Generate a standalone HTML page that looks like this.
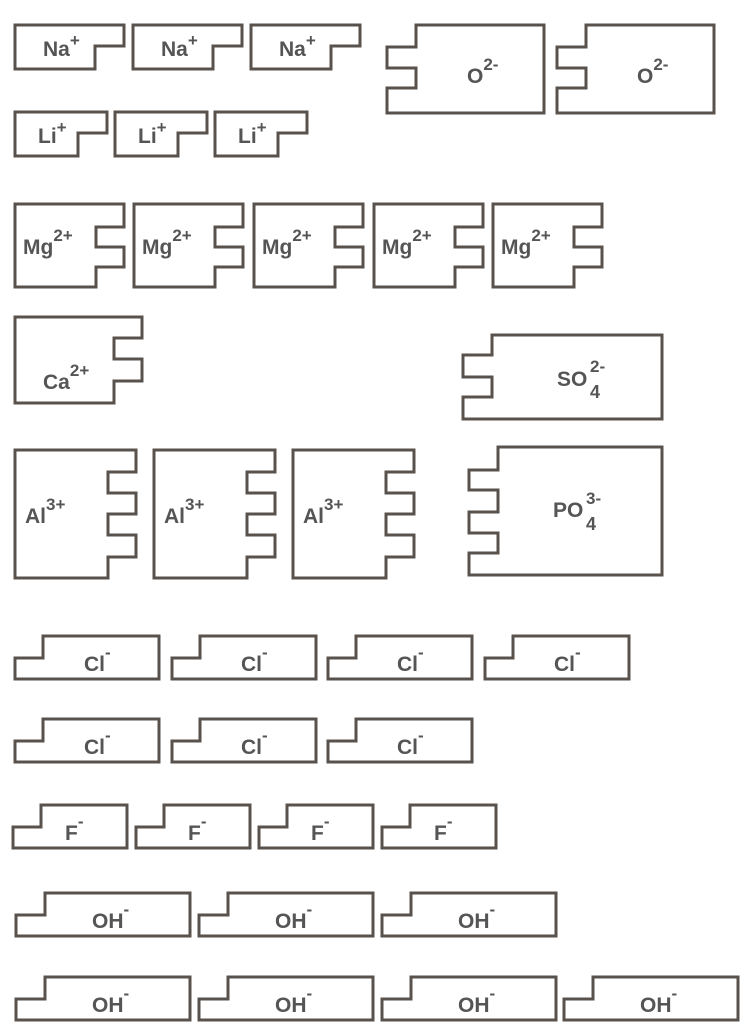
<!DOCTYPE html>
<html><head><meta charset="utf-8"><style>
html,body{margin:0;padding:0;background:#fff;}
svg{display:block}
text{font-family:"Liberation Sans",sans-serif;font-weight:bold;fill:#555;font-size:21px}
.s{font-size:17px}
path{fill:#fff;stroke:#59514c;stroke-width:3;stroke-linejoin:miter}
</style></head><body>
<svg width="750" height="1025" viewBox="0 0 750 1025" xmlns="http://www.w3.org/2000/svg">
<defs>
<path id="na" d="M0,0 H109 V21 H80 V44 H0 Z"/>
<path id="li" d="M0,0 H92 V21 H63 V44 H0 Z"/>
<path id="mg" d="M0,0 H109 V23 H81 V43 H109 V63 H81 V83 H0 Z"/>
<path id="ca" d="M0,0 H127 V21 H99 V42 H127 V64 H99 V86 H0 Z"/>
<path id="al" d="M0,0 H121 V22 H93 V43 H121 V64 H93 V85 H121 V107 H93 V128 H0 Z"/>
<path id="o" d="M29,0 H157 V88 H0 V63 H29 V43 H0 V22 H29 Z"/>
<path id="cl" d="M28,0 H144 V43 H0 V22 H28 Z"/>
<path id="f" d="M28,0 H114 V43 H0 V22 H28 Z"/>
<path id="oh" d="M29,0 H174 V43 H0 V22 H29 Z"/>
</defs>

<g transform="translate(15,25)"><use href="#na"/><text x="28" y="31">Na<tspan class="s" dy="-10">+</tspan></text></g>
<g transform="translate(133,25)"><use href="#na"/><text x="28" y="31">Na<tspan class="s" dy="-10">+</tspan></text></g>
<g transform="translate(251,25)"><use href="#na"/><text x="28" y="31">Na<tspan class="s" dy="-10">+</tspan></text></g>
<g transform="translate(15,112)"><use href="#li"/><text x="23" y="31">Li<tspan class="s" dy="-10">+</tspan></text></g>
<g transform="translate(115,112)"><use href="#li"/><text x="23" y="31">Li<tspan class="s" dy="-10">+</tspan></text></g>
<g transform="translate(215,112)"><use href="#li"/><text x="23" y="31">Li<tspan class="s" dy="-10">+</tspan></text></g>
<g transform="translate(387,25)"><use href="#o"/><text x="80" y="58">O<tspan class="s" dy="-13">2-</tspan></text></g>
<g transform="translate(557,25)"><use href="#o"/><text x="80" y="58">O<tspan class="s" dy="-13">2-</tspan></text></g>
<g transform="translate(15,204)"><use href="#mg"/><text x="8" y="50">Mg<tspan class="s" dy="-13">2+</tspan></text></g>
<g transform="translate(134,204)"><use href="#mg"/><text x="8" y="50">Mg<tspan class="s" dy="-13">2+</tspan></text></g>
<g transform="translate(254,204)"><use href="#mg"/><text x="8" y="50">Mg<tspan class="s" dy="-13">2+</tspan></text></g>
<g transform="translate(374,204)"><use href="#mg"/><text x="8" y="50">Mg<tspan class="s" dy="-13">2+</tspan></text></g>
<g transform="translate(493,204)"><use href="#mg"/><text x="8" y="50">Mg<tspan class="s" dy="-13">2+</tspan></text></g>
<g transform="translate(15,317)"><use href="#ca"/><text x="28" y="72">Ca<tspan class="s" dy="-13">2+</tspan></text></g>
<g transform="translate(463,335)"><path d="M29,0 H199 V84 H0 V62 H29 V42 H0 V20 H29 Z"/>
<text x="94" y="51">SO</text><text class="s" x="127" y="37">2-</text><text x="127" y="63" style="font-size:18px">4</text></g>
<g transform="translate(15,450)"><use href="#al"/><text x="10" y="73">Al<tspan class="s" dy="-13">3+</tspan></text></g>
<g transform="translate(154,450)"><use href="#al"/><text x="10" y="73">Al<tspan class="s" dy="-13">3+</tspan></text></g>
<g transform="translate(293,450)"><use href="#al"/><text x="10" y="73">Al<tspan class="s" dy="-13">3+</tspan></text></g>
<g transform="translate(469,447)"><path d="M29,0 H193 V128 H0 V106 H29 V86 H0 V65 H29 V43 H0 V23 H29 Z"/>
<text x="84" y="70">PO</text><text class="s" x="117" y="57">3-</text><text x="117" y="83" style="font-size:18px">4</text></g>
<g transform="translate(15,636)"><use href="#cl"/><text x="69" y="35">Cl<tspan class="s" dy="-13">-</tspan></text></g>
<g transform="translate(172,636)"><use href="#cl"/><text x="69" y="35">Cl<tspan class="s" dy="-13">-</tspan></text></g>
<g transform="translate(328,636)"><use href="#cl"/><text x="69" y="35">Cl<tspan class="s" dy="-13">-</tspan></text></g>
<g transform="translate(485,636)"><use href="#cl"/><text x="69" y="35">Cl<tspan class="s" dy="-13">-</tspan></text></g>
<g transform="translate(15,719)"><use href="#cl"/><text x="69" y="35">Cl<tspan class="s" dy="-13">-</tspan></text></g>
<g transform="translate(172,719)"><use href="#cl"/><text x="69" y="35">Cl<tspan class="s" dy="-13">-</tspan></text></g>
<g transform="translate(328,719)"><use href="#cl"/><text x="69" y="35">Cl<tspan class="s" dy="-13">-</tspan></text></g>
<g transform="translate(13,805)"><use href="#f"/><text x="52" y="35">F<tspan class="s" dy="-13">-</tspan></text></g>
<g transform="translate(136,805)"><use href="#f"/><text x="52" y="35">F<tspan class="s" dy="-13">-</tspan></text></g>
<g transform="translate(259,805)"><use href="#f"/><text x="52" y="35">F<tspan class="s" dy="-13">-</tspan></text></g>
<g transform="translate(382,805)"><use href="#f"/><text x="52" y="35">F<tspan class="s" dy="-13">-</tspan></text></g>
<g transform="translate(16,893)"><use href="#oh"/><text x="76" y="35">OH<tspan class="s" dy="-13">-</tspan></text></g>
<g transform="translate(199,893)"><use href="#oh"/><text x="76" y="35">OH<tspan class="s" dy="-13">-</tspan></text></g>
<g transform="translate(382,893)"><use href="#oh"/><text x="76" y="35">OH<tspan class="s" dy="-13">-</tspan></text></g>
<g transform="translate(16,977)"><use href="#oh"/><text x="76" y="35">OH<tspan class="s" dy="-13">-</tspan></text></g>
<g transform="translate(199,977)"><use href="#oh"/><text x="76" y="35">OH<tspan class="s" dy="-13">-</tspan></text></g>
<g transform="translate(382,977)"><use href="#oh"/><text x="76" y="35">OH<tspan class="s" dy="-13">-</tspan></text></g>
<g transform="translate(564,977)"><use href="#oh"/><text x="76" y="35">OH<tspan class="s" dy="-13">-</tspan></text></g>
</svg>
</body></html>
